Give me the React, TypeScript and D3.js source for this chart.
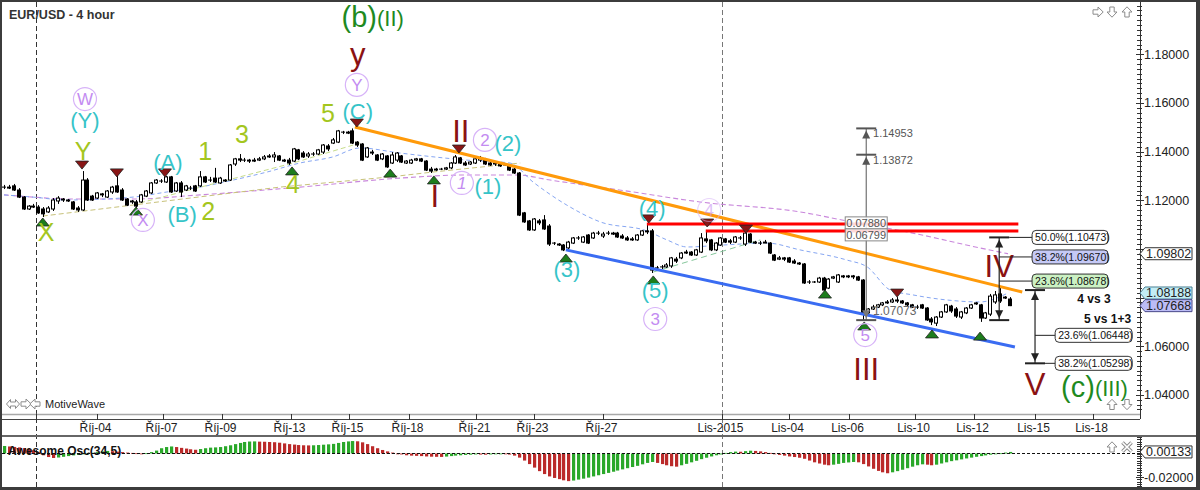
import React from "react";
import * as d3 from "d3";

// ---------------- data ----------------
// 4-hour candles: [open, high, low, close]
const candles: [number, number, number, number][] = [
  [1.1254,1.1263,1.1246,1.1254],[1.1254,1.1263,1.1246,1.1250],[1.1259,1.1267,1.1238,1.1242],[1.1242,1.1250,1.1209,1.1213],
  [1.1213,1.1217,1.1160,1.1164],[1.1164,1.1180,1.1160,1.1176],[1.1176,1.1185,1.1168,1.1172],[1.1172,1.1180,1.1144,1.1148],
  [1.1164,1.1172,1.1131,1.1144],[1.1152,1.1176,1.1148,1.1168],[1.1164,1.1209,1.1156,1.1201],[1.1197,1.1217,1.1185,1.1209],
  [1.1205,1.1209,1.1193,1.1201],[1.1201,1.1205,1.1193,1.1197],[1.1193,1.1197,1.1160,1.1164],[1.1168,1.1176,1.1152,1.1160],
  [1.1160,1.1320,1.1156,1.1283],[1.1283,1.1291,1.1197,1.1201],[1.1217,1.1222,1.1197,1.1201],[1.1209,1.1234,1.1205,1.1230],
  [1.1226,1.1230,1.1213,1.1222],[1.1213,1.1242,1.1209,1.1238],[1.1234,1.1259,1.1226,1.1254],[1.1259,1.1304,1.1230,1.1234],
  [1.1242,1.1250,1.1197,1.1201],[1.1205,1.1209,1.1176,1.1180],[1.1197,1.1201,1.1185,1.1193],[1.1193,1.1201,1.1168,1.1176],
  [1.1193,1.1226,1.1189,1.1222],[1.1217,1.1242,1.1213,1.1238],[1.1230,1.1275,1.1226,1.1271],[1.1271,1.1287,1.1267,1.1283],
  [1.1279,1.1287,1.1271,1.1279],[1.1275,1.1300,1.1271,1.1296],[1.1296,1.1300,1.1230,1.1234],[1.1238,1.1275,1.1234,1.1271],
  [1.1271,1.1279,1.1213,1.1234],[1.1242,1.1263,1.1238,1.1259],[1.1250,1.1259,1.1242,1.1250],[1.1259,1.1263,1.1234,1.1238],
  [1.1259,1.1320,1.1254,1.1296],[1.1296,1.1300,1.1271,1.1275],[1.1283,1.1296,1.1275,1.1283],[1.1291,1.1333,1.1271,1.1275],
  [1.1271,1.1296,1.1267,1.1291],[1.1283,1.1287,1.1275,1.1279],[1.1283,1.1349,1.1279,1.1345],[1.1349,1.1374,1.1341,1.1370],
  [1.1370,1.1390,1.1357,1.1365],[1.1365,1.1374,1.1357,1.1365],[1.1365,1.1370,1.1353,1.1361],[1.1361,1.1374,1.1357,1.1365],
  [1.1365,1.1378,1.1361,1.1370],[1.1370,1.1386,1.1365,1.1378],[1.1378,1.1390,1.1374,1.1382],[1.1378,1.1398,1.1357,1.1386],
  [1.1382,1.1386,1.1361,1.1365],[1.1365,1.1370,1.1357,1.1361],[1.1365,1.1374,1.1345,1.1353],[1.1361,1.1415,1.1357,1.1411],
  [1.1407,1.1411,1.1365,1.1370],[1.1394,1.1402,1.1374,1.1378],[1.1382,1.1398,1.1374,1.1390],[1.1390,1.1398,1.1382,1.1390],
  [1.1390,1.1411,1.1386,1.1407],[1.1398,1.1431,1.1390,1.1427],[1.1423,1.1431,1.1402,1.1411],[1.1435,1.1456,1.1431,1.1448],
  [1.1439,1.1489,1.1435,1.1485],[1.1480,1.1485,1.1472,1.1480],[1.1480,1.1485,1.1472,1.1476],[1.1485,1.14953,1.1431,1.1435],
  [1.1439,1.1443,1.1419,1.1427],[1.1431,1.1435,1.1361,1.1365],[1.1378,1.1419,1.1374,1.1415],[1.1398,1.1407,1.1386,1.1394],
  [1.1386,1.1390,1.1361,1.1365],[1.1370,1.1394,1.1365,1.1390],[1.1382,1.1386,1.1333,1.1337],[1.1353,1.1398,1.1349,1.1386],
  [1.1365,1.1398,1.1357,1.1394],[1.1382,1.1386,1.1353,1.1357],[1.1353,1.1365,1.1349,1.1361],[1.1353,1.1370,1.1349,1.1365],
  [1.1365,1.1374,1.1361,1.1370],[1.1370,1.1374,1.1357,1.1361],[1.1361,1.1365,1.1320,1.1324],[1.1328,1.1337,1.1312,1.1320],
  [1.1324,1.1333,1.1320,1.1328],[1.1328,1.1333,1.1324,1.1328],[1.1328,1.1337,1.1324,1.1333],[1.1333,1.1357,1.1328,1.1353],
  [1.1353,1.1386,1.1349,1.1378],[1.1374,1.1378,1.1349,1.1353],[1.1353,1.1361,1.1341,1.1345],[1.1349,1.1361,1.1345,1.1357],
  [1.1353,1.1374,1.1349,1.1370],[1.1365,1.1382,1.1357,1.1374],[1.1370,1.1374,1.1345,1.1349],[1.1353,1.1361,1.1341,1.1345],
  [1.1349,1.1357,1.1341,1.1353],[1.1353,1.1357,1.1337,1.1341],[1.1345,1.1353,1.1341,1.1349],[1.1345,1.1349,1.1320,1.1324],
  [1.1328,1.1337,1.1308,1.1312],[1.1312,1.1316,1.1135,1.1139],[1.1148,1.1152,1.1107,1.1111],[1.1115,1.1119,1.1074,1.1078],
  [1.1078,1.1127,1.1074,1.1123],[1.1115,1.1123,1.1098,1.1107],[1.1119,1.1139,1.1078,1.1082],[1.1094,1.1102,1.1012,1.1020],
  [1.1024,1.1028,1.1016,1.1024],[1.1020,1.1024,1.1012,1.1016],[1.1016,1.1020,1.0991,1.0996],[1.1004,1.1033,1.1000,1.1028],
  [1.1024,1.1049,1.1020,1.1045],[1.1045,1.1053,1.1037,1.1045],[1.1028,1.1053,1.1024,1.1049],[1.1057,1.1061,1.1020,1.1024],
  [1.1045,1.1070,1.1041,1.1065],[1.1065,1.1074,1.1057,1.1065],[1.1053,1.1070,1.1045,1.1061],[1.1065,1.1074,1.1057,1.1065],
  [1.1065,1.1070,1.1057,1.1061],[1.1065,1.1070,1.1045,1.1049],[1.1053,1.1061,1.1041,1.1045],[1.1045,1.1053,1.1033,1.1037],
  [1.1037,1.1049,1.1033,1.1041],[1.1037,1.1061,1.1033,1.1057],[1.1057,1.1078,1.1053,1.1074],[1.1074,1.1102,1.1061,1.1070],
  [1.1074,1.1082,1.0901,1.0913],[1.0922,1.0930,1.0913,1.0922],[1.0926,1.0934,1.0917,1.0926],[1.0926,1.0942,1.0922,1.0934],
  [1.0930,1.0967,1.0922,1.0963],[1.0958,1.0967,1.0942,1.0950],[1.0963,1.0987,1.0958,1.0983],[1.0983,1.0996,1.0979,1.0987],
  [1.0987,1.0991,1.0971,1.0975],[1.0975,1.1000,1.0971,1.0996],[1.0987,1.1065,1.0983,1.1045],[1.1041,1.1078,1.1024,1.1033],
  [1.1037,1.1041,1.0991,1.0996],[1.0996,1.1028,1.0991,1.1024],[1.1016,1.1049,1.1012,1.1045],[1.1041,1.1045,1.1024,1.1028],
  [1.1033,1.1041,1.1020,1.1028],[1.1028,1.1053,1.1024,1.1049],[1.1045,1.1053,1.1037,1.1045],[1.1020,1.1074,1.1012,1.1065],
  [1.1061,1.1065,1.1024,1.1028],[1.1028,1.1033,1.1020,1.1024],[1.1024,1.1033,1.1016,1.1024],[1.1024,1.1037,1.1024,1.1028],
  [1.1024,1.1028,1.0979,1.0983],[1.0975,1.0979,1.0950,1.0954],[1.0958,1.0971,1.0954,1.0963],[1.0963,1.0967,1.0950,1.0958],
  [1.0963,1.0967,1.0942,1.0946],[1.0950,1.0958,1.0938,1.0942],[1.0942,1.0946,1.0934,1.0938],[1.0938,1.0942,1.0856,1.0860],
  [1.0864,1.0872,1.0856,1.0864],[1.0864,1.0868,1.0860,1.0864],[1.0864,1.0885,1.0860,1.0880],[1.0880,1.0885,1.0827,1.0831],
  [1.0839,1.0880,1.0835,1.0876],[1.0880,1.0889,1.0876,1.0885],[1.0864,1.0897,1.0860,1.0893],[1.0889,1.0893,1.0880,1.0885],
  [1.0885,1.0893,1.0880,1.0889],[1.0889,1.0893,1.0876,1.0885],[1.0885,1.0889,1.0868,1.0872],[1.0872,1.0876,1.07073,1.0737],
  [1.0737,1.0757,1.0728,1.0753],[1.0753,1.0770,1.0749,1.0761],[1.0761,1.0774,1.0757,1.0770],[1.0770,1.0782,1.0765,1.0778],
  [1.0778,1.0790,1.0774,1.0782],[1.0782,1.0798,1.0778,1.0790],[1.0790,1.0802,1.0778,1.0786],[1.0786,1.0790,1.0774,1.0778],
  [1.0778,1.0782,1.0765,1.0770],[1.0770,1.0774,1.0757,1.0761],[1.0761,1.0770,1.0753,1.0761],[1.0770,1.0774,1.0753,1.0757],
  [1.0757,1.0761,1.0704,1.0708],[1.0712,1.0720,1.0687,1.0700],[1.0695,1.0724,1.0683,1.0720],[1.0720,1.0745,1.0716,1.0741],
  [1.0741,1.0774,1.0737,1.0770],[1.0765,1.0770,1.0737,1.0745],[1.0753,1.0761,1.0716,1.0724],[1.0720,1.0745,1.0712,1.0741],
  [1.0737,1.0761,1.0732,1.0757],[1.0757,1.0774,1.0753,1.0770],[1.0774,1.0782,1.0770,1.0778],[1.0770,1.0774,1.0700,1.0716],
  [1.0716,1.0741,1.0712,1.0737],[1.0732,1.0815,1.0724,1.0806],[1.0782,1.0827,1.0774,1.0811],[1.0815,1.0839,1.0778,1.0786],
  [1.0798,1.0806,1.0794,1.0802],[1.0794,1.0802,1.0765,1.07668],
];

// Awesome Oscillator (34,5), one value per candle
const awesomeOsc: number[] = [
  0.0064,0.0060,0.0056,0.0052,0.0046,0.0038,0.0028,0.0012,-0.0015,-0.0030,-0.0038,-0.0034,-0.0028,-0.0022,-0.0016,-0.0012,
  -0.0006,0.0000,0.0006,0.0012,0.0018,0.0022,0.0020,0.0016,0.0012,0.0008,0.0005,0.0002,0.0000,0.0002,0.0012,0.0025,
  0.0045,0.0055,0.0060,0.0055,0.0048,0.0042,0.0036,0.0032,0.0038,0.0045,0.0050,0.0052,0.0055,0.0062,0.0070,0.0080,
  0.0090,0.0098,0.0102,0.0103,0.0101,0.0100,0.0098,0.0096,0.0092,0.0086,0.0080,0.0076,0.0072,0.0070,0.0069,0.0070,
  0.0072,0.0075,0.0078,0.0082,0.0090,0.0098,0.0103,0.0106,0.0104,0.0095,0.0080,0.0062,0.0045,0.0030,0.0018,0.0008,
  0.0000,-0.0008,-0.0015,-0.0018,-0.0020,-0.0022,-0.0025,-0.0027,-0.0028,-0.0029,-0.0026,-0.0022,-0.0018,-0.0015,-0.0012,-0.0010,
  -0.0008,-0.0009,-0.0010,-0.0008,-0.0006,-0.0005,-0.0006,-0.0009,-0.0018,-0.0035,-0.0060,-0.0090,-0.0120,-0.0150,-0.0175,-0.0195,
  -0.0208,-0.0218,-0.0228,-0.0235,-0.0230,-0.0222,-0.0214,-0.0205,-0.0195,-0.0185,-0.0175,-0.0165,-0.0155,-0.0145,-0.0135,-0.0125,
  -0.0115,-0.0105,-0.0092,-0.0080,-0.0072,-0.0080,-0.0090,-0.0100,-0.0108,-0.0112,-0.0100,-0.0088,-0.0075,-0.0062,-0.0048,-0.0036,
  -0.0025,-0.0015,-0.0008,0.0005,0.0012,0.0016,0.0015,0.0020,0.0024,0.0022,0.0018,0.0012,0.0005,-0.0005,-0.0012,-0.0018,
  -0.0025,-0.0030,-0.0036,-0.0045,-0.0060,-0.0075,-0.0085,-0.0095,-0.0100,-0.0095,-0.0088,-0.0080,-0.0076,-0.0072,-0.0075,-0.0090,
  -0.0110,-0.0130,-0.0148,-0.0160,-0.0168,-0.0160,-0.0150,-0.0138,-0.0125,-0.0112,-0.0100,-0.0092,-0.0095,-0.0100,-0.0095,-0.0085,
  -0.0075,-0.0065,-0.0058,-0.0050,-0.0042,-0.0035,-0.0028,-0.0022,-0.0016,-0.0010,-0.0004,0.0002,0.0008,0.00133,
];

// moving averages: [bar, price]
const slowMA: [number, number][] = [
  [0,1.1222],[5.9,1.1213],[12.8,1.1205],[26.3,1.1205],[39.9,1.1222],[60.3,1.1254],[80.7,1.1291],[94.4,1.1304],
  [104.5,1.1304],[111.3,1.1283],[128.2,1.1234],[141.8,1.1193],[162.2,1.1152],[171.8,1.1115],[185.2,1.1065],[198.9,1.1004],[204.6,1.09802],
];
const fastMA: [number, number][] = [
  [0,1.1222],[5.9,1.1213],[12.8,1.1201],[26.3,1.1213],[33.2,1.1234],[39.9,1.1254],[46.7,1.1283],[53.6,1.1316],
  [60.3,1.1353],[67.0,1.1378],[72.5,1.1415],[80.7,1.1394],[94.4,1.1365],[103.1,1.1353],[107.8,1.1275],[114.7,1.1180],
  [121.5,1.1111],[131.0,1.1074],[135.1,1.1037],[139.2,1.1008],[146.5,1.1016],[155.5,1.1024],[162.2,1.0996],[171.8,1.0954],
  [175.9,1.0926],[180.6,1.0831],[185.2,1.0811],[192.2,1.0790],[198.9,1.0782],[204.6,1.08188],
];
const khakiGuide: [number, number][] = [[7.9,1.1135],[56.2,1.1254],[78.7,1.1296],[87.4,1.1316],[105.2,1.1353]];
const limeGuide: [number, number][] = [[27.7,1.1189],[58.9,1.1353],[72.5,1.1435]];
const mintGuide: [number, number][] = [[132.3,1.0905],[154.1,1.1037]];

const orangeTrend: [number, number][] = [[71.5,1.1501],[207.5,1.0823]];
const blueTrend: [number, number][] = [[114.5,1.0996],[206.0,1.0597]];
const redLevels: { from: number; to: number; price: number }[] = [
  { from: 131, to: 206.7, price: 1.1102 },
  { from: 143, to: 206.7, price: 1.1074 },
];

const dateTicks: { label: string; bar: number }[] = [
  { label: "", bar: 6.5 }, { label: "Říj-04", bar: 19.0 }, { label: "Říj-07", bar: 32.5 }, { label: "Říj-09", bar: 44.4 },
  { label: "Říj-13", bar: 58.4 }, { label: "Říj-15", bar: 70.3 }, { label: "Říj-18", bar: 82.6 }, { label: "Říj-21", bar: 96.2 },
  { label: "Říj-23", bar: 108.1 }, { label: "Říj-27", bar: 122.1 }, { label: "Lis-2015", bar: 146.3 }, { label: "Lis-04", bar: 160.0 },
  { label: "Lis-06", bar: 172.1 }, { label: "Lis-10", bar: 185.7 }, { label: "Lis-12", bar: 197.7 }, { label: "Lis-15", bar: 210.0 },
  { label: "Lis-18", bar: 222.0 },
];
const monthLines = [6.5, 146.3];
const priceTicks = [1.04, 1.06, 1.08, 1.1, 1.12, 1.14, 1.16, 1.18];

const redMarkers: [number, number][] = [
  [71.9,1.1501],[15.9,1.1328],[23.0,1.1296],[32.8,1.1296],[92.7,1.1394],[131.4,1.1107],[143.3,1.1090],[151.2,1.1065],[182.0,1.0802],
];
const greenMarkers: [number, number][] = [
  [7.9,1.1127],[26.9,1.1172],[58.7,1.1337],[78.7,1.1328],[87.6,1.1300],[114.5,1.0979],[132.3,1.0889],[167.3,1.0831],
  [175.3,1.0700],[189.1,1.0667],[198.9,1.0658],
];

type Lbl = { t: string; bar: number; price: number; kind: string; anchor?: string };
const waveLabels: Lbl[] = [
  { t: "(b)", bar: 76.0, price: 1.1912, kind: "primary", anchor: "end" },
  { t: "(II)", bar: 76.0, price: 1.1916, kind: "primarySm", anchor: "start" },
  { t: "y", bar: 72.1, price: 1.1756, kind: "red" },
  { t: "(C)", bar: 72.1, price: 1.1534, kind: "cyan" },
  { t: "5", bar: 66.0, price: 1.1522, kind: "lime" },
  { t: "(Y)", bar: 16.5, price: 1.1497, kind: "cyan" },
  { t: "Y", bar: 16.1, price: 1.1365, kind: "lime" },
  { t: "X", bar: 8.6, price: 1.1033, kind: "lime" },
  { t: "(A)", bar: 33.4, price: 1.1324, kind: "cyan" },
  { t: "1", bar: 41.0, price: 1.1365, kind: "lime" },
  { t: "3", bar: 48.5, price: 1.1435, kind: "lime" },
  { t: "2", bar: 41.6, price: 1.1119, kind: "lime" },
  { t: "(B)", bar: 36.3, price: 1.1111, kind: "cyan" },
  { t: "4", bar: 58.9, price: 1.1230, kind: "lime" },
  { t: "I", bar: 87.8, price: 1.1172, kind: "red" },
  { t: "II", bar: 93.1, price: 1.1439, kind: "red" },
  { t: "(2)", bar: 102.7, price: 1.1402, kind: "cyan" },
  { t: "(1)", bar: 98.6, price: 1.1226, kind: "cyan" },
  { t: "(3)", bar: 114.7, price: 1.0885, kind: "cyan" },
  { t: "(4)", bar: 132.1, price: 1.1135, kind: "cyan" },
  { t: "(5)", bar: 132.7, price: 1.0798, kind: "cyan" },
  { t: "III", bar: 175.7, price: 1.0461, kind: "red" },
  { t: "IV", bar: 202.8, price: 1.0885, kind: "red" },
  { t: "V", bar: 210.1, price: 1.0400, kind: "red" },
  { t: "(c)", bar: 222.3, price: 1.0391, kind: "primary", anchor: "end" },
  { t: "(III)", bar: 222.3, price: 1.0395, kind: "primarySm", anchor: "start" },
  { t: "4 vs 3", bar: 218.7, price: 1.0778, kind: "note", anchor: "start" },
  { t: "5 vs 1+3", bar: 220.1, price: 1.0695, kind: "note", anchor: "start" },
];
const circledLabels: { t: string; bar: number; price: number; faint?: boolean; italic?: boolean }[] = [
  { t: "W", bar: 16.5, price: 1.1616 }, { t: "Y", bar: 71.9, price: 1.1674 }, { t: "X", bar: 28.3, price: 1.1119 },
  { t: "2", bar: 98.0, price: 1.1448 }, { t: "1", bar: 93.3, price: 1.1271, italic: true }, { t: "3", bar: 132.7, price: 1.0712 },
  { t: "4", bar: 143.7, price: 1.1160, faint: true }, { t: "5", bar: 175.5, price: 1.0646 },
];

const measureTool = { bar: 175.7, top: 1.14953, mid: 1.13872, low: 1.07073, labelBar: 177.1 };
const fibRetrace = { bar: 202.8, bottom: 1.07073, boxBar: 209.5,
  levels: [{ pct: "50.0%", price: 1.10473 }, { pct: "38.2%", price: 1.0967 }, { pct: "23.6%", price: 1.08678 }] };
const fibExtension = { bar: 210.1, top: 1.08308, boxBar: 214.2,
  levels: [{ pct: "23.6%", price: 1.06448 }, { pct: "38.2%", price: 1.05298 }] };

// ---------------- styles ----------------
const SANS = "'Liberation Sans', Arial, sans-serif";
const kindStyle: Record<string, { fill: string; size: number; weight?: number }> = {
  primary: { fill: "#1f8a1f", size: 29 },
  primarySm: { fill: "#1f8a1f", size: 22 },
  red: { fill: "#8b1212", size: 31 },
  cyan: { fill: "#36c4c8", size: 22 },
  lime: { fill: "#a4c61e", size: 25 },
  note: { fill: "#111", size: 12, weight: 700 },
};
const fibFills: Record<string, string> = { "50.0%": "#ffffff", "38.2%": "#c5c9f6", "23.6%": "#cbf1c3" };

// outline block-arrow icon (pointing right before rotation)
const ARROW_PATH = "M-5,-2.2L0,-2.2L0,-5L5.2,0L0,5L0,2.2L-5,2.2Z";
const DOUBLE_ARROW_PATH = "M-6.5,0L-2.5,-4.5L-2.5,-2L2.5,-2L2.5,-4.5L6.5,0L2.5,4.5L2.5,2L-2.5,2L-2.5,4.5Z";
function Icon({ cx, cy, rot = 0, d = ARROW_PATH }: { cx: number; cy: number; rot?: number; d?: string }) {
  return <path d={d} transform={`translate(${cx},${cy}) rotate(${rot})`} fill="#fff" stroke="#8c8c8c" strokeWidth={1} />;
}
function CloseIcon({ cx, cy }: { cx: number; cy: number }) {
  const s = 4.5;
  return (
    <g>
      <path d={`M${cx - s},${cy - s}L${cx + s},${cy + s}M${cx + s},${cy - s}L${cx - s},${cy + s}`} stroke="#8c8c8c" strokeWidth={3.6} />
      <path d={`M${cx - s},${cy - s}L${cx + s},${cy + s}M${cx + s},${cy - s}L${cx - s},${cy + s}`} stroke="#fff" strokeWidth={1.6} />
    </g>
  );
}

export default function App() {
  const x = d3.scaleLinear().domain([0, 205]).range([4, 1010]);
  const y = d3.scaleLinear().domain([1.2023, 1.03215]).range([0, 414]);
  const yo = d3.scaleLinear().domain([-0.0285, 0.0149]).range([487, 436]);
  const straight = d3.line<[number, number]>().x((d) => x(d[0])).y((d) => y(d[1]));
  const smooth = d3.line<[number, number]>().x((d) => x(d[0])).y((d) => y(d[1])).curve(d3.curveMonotoneX);

  const AX = 1140;
  const minorTicks = d3.range(1034, 1201, 2).map((v) => v / 1000);
  const oscTicks = d3.range(-28, 15, 2).map((v) => v / 1000);

  const lastClose = candles[candles.length - 1][3];
  const valueBoxes = [
    { v: slowMA[slowMA.length - 1][1], fill: "#ffffff", stroke: "#333" },
    { v: fastMA[fastMA.length - 1][1], fill: "#c2edf5", stroke: "#4a7f93" },
    { v: lastClose, fill: "#bcbcf6", stroke: "#4a4a8a" },
  ];
  const boxYs = valueBoxes.map((b) => y(b.v));
  const arrowBox = (yy: number, w = 47) =>
    `M${AX},${yy}L${AX + 5},${yy - 6}L${AX + 5 + w},${yy - 6}L${AX + 5 + w},${yy + 6}L${AX + 5},${yy + 6}Z`;

  const triDown = (cx: number, cy: number) => `M${cx - 6.5},${cy - 8}L${cx + 6.5},${cy - 8}L${cx},${cy}Z`;
  const triUp = (cx: number, cy: number) => `M${cx},${cy}L${cx - 6.5},${cy + 8}L${cx + 6.5},${cy + 8}Z`;
  const smallUp = (cx: number, cy: number) => `M${cx},${cy}L${cx - 4},${cy + 8}L${cx + 4},${cy + 8}Z`;
  const smallDown = (cx: number, cy: number) => `M${cx},${cy}L${cx - 4},${cy - 8}L${cx + 4},${cy - 8}Z`;

  const mx = x(measureTool.bar);
  const fx = x(fibRetrace.bar);
  const ex = x(fibExtension.bar);
  const oscLast = awesomeOsc[awesomeOsc.length - 1];

  return (
    <svg width={1200} height={490} style={{ position: "absolute", left: 0, top: 0, background: "#fff" }}
      fontFamily={SANS}>
      <defs>
        <clipPath id="plot"><rect x={2} y={2} width={AX - 2} height={412} /></clipPath>
        <clipPath id="osc"><rect x={2} y={437} width={AX - 2} height={50} /></clipPath>
      </defs>
      <rect x={0} y={0} width={1200} height={490} fill="#fff" />

      {/* month separators */}
      {monthLines.map((b, i) => (
        <line key={i} x1={Math.round(x(b)) + 0.5} x2={Math.round(x(b)) + 0.5} y1={2} y2={487}
          stroke={i === 0 ? "#333" : "#777"} strokeDasharray="5,3" strokeWidth={1} />
      ))}

      <g clipPath="url(#plot)">
        {/* moving averages & guides */}
        <path d={smooth(slowMA) || ""} fill="none" stroke="#c987dc" strokeWidth={1.1} strokeDasharray="5,3" />
        <path d={smooth(fastMA) || ""} fill="none" stroke="#86a6f2" strokeWidth={1} strokeDasharray="4,3" />
        <path d={straight(khakiGuide) || ""} fill="none" stroke="#c8c27a" strokeWidth={1} strokeDasharray="5,3" />
        <path d={straight(limeGuide) || ""} fill="none" stroke="#c6dc8a" strokeWidth={1} strokeDasharray="5,3" />
        <path d={straight(mintGuide) || ""} fill="none" stroke="#86c79c" strokeWidth={1} strokeDasharray="6,4" />

        {/* candles */}
        {candles.map(([o, h, l, c], i) => {
          const cx = Math.round(x(i)) + 0.5;
          const up = c >= o;
          const top = y(Math.max(o, c));
          const bot = y(Math.min(o, c));
          return (
            <g key={i}>
              <line x1={cx} x2={cx} y1={y(h)} y2={y(l)} stroke="#000" strokeWidth={1} />
              <rect x={cx - 2} y={top} width={3} height={Math.max(bot - top, 0.01)}
                fill={up ? "#fff" : "#000"} stroke="#000" strokeWidth={1} />
            </g>
          );
        })}

        {/* trend lines */}
        <path d={straight(orangeTrend) || ""} stroke="#ff9a0a" strokeWidth={3} fill="none" />
        <path d={straight(blueTrend) || ""} stroke="#3a6cf2" strokeWidth={3} fill="none" />
        {redLevels.map((r, i) => (
          <line key={i} x1={x(r.from)} x2={x(r.to)} y1={y(r.price)} y2={y(r.price)} stroke="#ff0000" strokeWidth={3} />
        ))}

        {/* measure tool (gray) */}
        <g stroke="#555" fill="#555">
          <line x1={mx} x2={mx} y1={y(measureTool.top)} y2={y(measureTool.low)} strokeWidth={1} />
          {[measureTool.top, measureTool.mid].map((p, i) => (
            <g key={i}>
              <line x1={mx - 10} x2={mx + 10} y1={y(p)} y2={y(p)} strokeWidth={2} />
              <path d={smallUp(mx, y(p) + 2)} stroke="none" />
            </g>
          ))}
          <line x1={mx - 10} x2={mx + 10} y1={y(measureTool.low)} y2={y(measureTool.low)} strokeWidth={2} />
          <path d={smallDown(mx, y(measureTool.low) - 2)} stroke="none" fill="#777" />
        </g>
        {[measureTool.top, measureTool.mid].map((p, i) => (
          <text key={i} x={x(measureTool.labelBar)} y={y(p) + 9} fontSize={11} fill="#555">{p.toFixed(5)}</text>
        ))}
        <text x={x(measureTool.labelBar)} y={y(measureTool.low) - 5} fontSize={12} fill="#666">{measureTool.low.toFixed(5)}</text>
        {[measureTool.top, measureTool.mid].map((p, i) => {
          const cy = y(1.1107) + i * 12;
          return (
            <g key={i}>
              <rect x={mx - 21} y={cy - 6} width={42} height={12} fill="#fff" fillOpacity={0.85} stroke="#888" />
              <text x={mx} y={cy + 4} fontSize={11} fill="#555" textAnchor="middle">{(p - measureTool.low).toFixed(5)}</text>
            </g>
          );
        })}

        {/* markers */}
        {redMarkers.map(([b, p], i) => (
          <path key={i} d={triDown(x(b), y(p))} fill="#8a1616" stroke="#222" strokeWidth={0.8} />
        ))}
        {greenMarkers.map(([b, p], i) => (
          <path key={i} d={triUp(x(b), y(p))} fill="#1d7d1d" stroke="#222" strokeWidth={0.8} />
        ))}

        {/* circled labels */}
        {circledLabels.map((c, i) => (
          <g key={i} opacity={c.faint ? 0.55 : 1}>
            <circle cx={x(c.bar)} cy={y(c.price)} r={11.5} fill="none" stroke="#d7b3f8" strokeWidth={1.2} />
            <text x={x(c.bar)} y={y(c.price) + 6} fontSize={17} fill="#c38cf1" textAnchor="middle"
              fontStyle={c.italic ? "italic" : "normal"}>{c.t}</text>
          </g>
        ))}

        {/* wave labels */}
        {waveLabels.map((l, i) => {
          const s = kindStyle[l.kind];
          return (
            <text key={i} x={x(l.bar)} y={y(l.price)} fontSize={s.size} fill={s.fill} fontWeight={s.weight || 400}
              textAnchor={l.anchor || "middle"}>{l.t}</text>
          );
        })}

        {/* fib retracement tool */}
        <g stroke="#222" fill="#222">
          <line x1={fx} x2={fx} y1={y(fibRetrace.levels[0].price)} y2={y(fibRetrace.bottom)} strokeWidth={1.2} />
          <line x1={fx - 10} x2={fx + 10} y1={y(fibRetrace.levels[0].price)} y2={y(fibRetrace.levels[0].price)} strokeWidth={2} />
          <line x1={fx - 10} x2={fx + 10} y1={y(fibRetrace.bottom)} y2={y(fibRetrace.bottom)} strokeWidth={2} />
          <path d={smallUp(fx, y(fibRetrace.levels[0].price) + 2)} stroke="none" />
          <path d={smallDown(fx, y(fibRetrace.bottom) - 2)} stroke="none" />
          {fibRetrace.levels.map((lv, i) => (
            <line key={i} x1={i === 0 ? fx + 10 : fx} x2={x(fibRetrace.boxBar)} y1={y(lv.price)} y2={y(lv.price)} strokeWidth={1} />
          ))}
        </g>
        {/* fib extension tool */}
        <g stroke="#222" fill="#222">
          <line x1={ex} x2={ex} y1={y(fibExtension.top)} y2={y(fibExtension.levels[1].price)} strokeWidth={1.2} />
          <line x1={ex - 10} x2={ex + 10} y1={y(fibExtension.top)} y2={y(fibExtension.top)} strokeWidth={2} />
          <line x1={ex - 10} x2={ex + 10} y1={y(fibExtension.levels[1].price)} y2={y(fibExtension.levels[1].price)} strokeWidth={2} />
          <path d={smallUp(ex, y(fibExtension.top) + 2)} stroke="none" />
          <path d={smallDown(ex, y(fibExtension.levels[1].price) - 2)} stroke="none" />
          {fibExtension.levels.map((lv, i) => (
            <line key={i} x1={i === 1 ? ex + 10 : ex} x2={x(fibExtension.boxBar)} y1={y(lv.price)} y2={y(lv.price)} strokeWidth={1} />
          ))}
        </g>
        {fibRetrace.levels.map((lv, i) => (
          <g key={i}>
            <rect x={x(fibRetrace.boxBar)} y={y(lv.price) - 7} width={76} height={14} rx={4}
              fill={fibFills[lv.pct]} stroke="#333" />
            <text x={x(fibRetrace.boxBar) + 3} y={y(lv.price) + 4} fontSize={10.5} fill="#111">
              {`${lv.pct}(${lv.price.toFixed(5)})`}</text>
          </g>
        ))}
        {fibExtension.levels.map((lv, i) => (
          <g key={i}>
            <rect x={x(fibExtension.boxBar)} y={y(lv.price) - 7} width={77} height={14} rx={4} fill="#fff" stroke="#333" />
            <text x={x(fibExtension.boxBar) + 3} y={y(lv.price) + 4} fontSize={10.5} fill="#111">
              {`${lv.pct}(${lv.price.toFixed(5)})`}</text>
          </g>
        ))}
      </g>

      {/* title & watermark */}
      <text x={9} y={19} fontSize={12.5} fontWeight={700} fill="#333">EUR/USD - 4 hour</text>
      <Icon cx={13} cy={404} d={DOUBLE_ARROW_PATH} />
      <Icon cx={26} cy={404} />
      <Icon cx={35} cy={404} rot={180} />
      <text x={45} y={408} fontSize={11} fill="#222">MotiveWave</text>
      <Icon cx={1098} cy={12} />
      <Icon cx={1112} cy={12} rot={90} />
      <Icon cx={1127} cy={12} rot={-90} />
      <Icon cx={1112} cy={404.5} rot={-90} />
      <Icon cx={1127} cy={404.5} rot={90} />

      {/* price axis */}
      <line x1={AX + 0.5} x2={AX + 0.5} y1={2} y2={419} stroke="#333" />
      {minorTicks.map((p, i) => (
        <line key={i} x1={AX - 3} x2={AX + 2} y1={Math.round(y(p)) + 0.5} y2={Math.round(y(p)) + 0.5} stroke="#333" />
      ))}
      {priceTicks.map((p, i) => {
        const hidden = boxYs.some((by) => Math.abs(by - y(p)) < 10);
        return (
          <g key={i}>
            <line x1={AX - 4} x2={AX + 4} y1={Math.round(y(p)) + 0.5} y2={Math.round(y(p)) + 0.5} stroke="#333" />
            {!hidden && <text x={AX + 4} y={y(p) + 4.5} fontSize={12.5} fill="#222">{p.toFixed(5)}</text>}
          </g>
        );
      })}
      {valueBoxes.map((b, i) => (
        <g key={i}>
          <path d={arrowBox(y(b.v))} fill={b.fill} stroke={b.stroke} />
          <text x={AX + 6} y={y(b.v) + 4.5} fontSize={12.5} fill="#222">{b.v.toFixed(5)}</text>
        </g>
      ))}

      {/* time axis */}
      <line x1={2} x2={AX} y1={414.5} y2={414.5} stroke="#a8a8a8" strokeWidth={1.5} />
      <line x1={2} x2={AX} y1={419.5} y2={419.5} stroke="#444" />
      {dateTicks.map((t, i) => {
        const tx = Math.round(x(t.bar)) + 0.5;
        return (
          <g key={i}>
            <line x1={tx} x2={tx} y1={414} y2={420} stroke="#333" />
            <text x={tx - 2} y={432} fontSize={12} fill="#222" textAnchor="middle">{t.label}</text>
          </g>
        );
      })}
      <line x1={0} x2={1196} y1={436} y2={436} stroke="#666" strokeWidth={2} />

      {/* oscillator */}
      <g clipPath="url(#osc)">
        {awesomeOsc.map((v, i) => {
          const prev = i > 0 ? awesomeOsc[i - 1] : v;
          const cx = Math.round(x(i));
          const y0 = yo(0);
          const y1 = yo(v);
          return (
            <rect key={i} x={cx - 1} y={Math.min(y0, y1)} width={3.2} height={Math.max(Math.abs(y1 - y0), 0.8)}
              fill={v >= prev ? "#2aa82a" : "#bb2a2a"} />
          );
        })}
        <line x1={2} x2={AX} y1={yo(0)} y2={yo(0)} stroke="#111" strokeDasharray="3,2" />
      </g>
      <text x={8} y={455} fontSize={12} fontWeight={700} fill="#111">Awesome Osc(34,5)</text>
      <Icon cx={1112} cy={447} rot={-90} />
      <CloseIcon cx={1127} cy={447} />
      <line x1={AX + 0.5} x2={AX + 0.5} y1={437} y2={487} stroke="#333" />
      {oscTicks.map((v, i) => (
        <line key={i} x1={AX - 3} x2={AX + 2} y1={Math.round(yo(v)) + 0.5} y2={Math.round(yo(v)) + 0.5} stroke="#333" />
      ))}
      <line x1={AX - 4} x2={AX + 4} y1={Math.round(yo(-0.02)) + 0.5} y2={Math.round(yo(-0.02)) + 0.5} stroke="#333" />
      <text x={AX + 4} y={yo(-0.02) + 4.5} fontSize={12.5} fill="#222">{(-0.02).toFixed(5)}</text>
      <path d={arrowBox(yo(oscLast))} fill="#fff" stroke="#333" />
      <text x={AX + 6} y={yo(oscLast) + 4.5} fontSize={12.5} fill="#222">{oscLast.toFixed(5)}</text>

      {/* outer frame */}
      <rect x={1} y={1} width={1196} height={487} fill="none" stroke="#3c3c3c" strokeWidth={2} />
      <rect x={1196} y={0} width={4} height={490} fill="#3c3c3c" />
      <rect x={0} y={487} width={1200} height={3} fill="#3c3c3c" />
    </svg>
  );
}
